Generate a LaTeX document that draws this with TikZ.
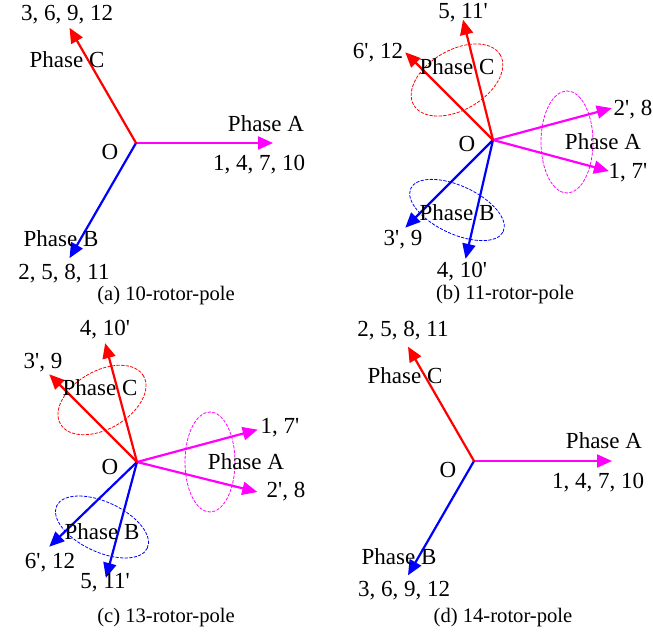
\documentclass[tikz,border=0pt]{standalone}
\usepackage{fontspec}
\setmainfont{Liberation Serif}
\usetikzlibrary{arrows.meta}

\definecolor{rosa}{RGB}{255,0,255}
\definecolor{rosso}{RGB}{255,0,0}
\definecolor{blu}{RGB}{0,0,255}
\newcommand{\apx}{\textquotesingle}

\begin{document}
\begin{tikzpicture}[>={Triangle[length=7.5pt,width=6.5pt]}, line cap=round, line join=round, x=0.5pt, y=0.5pt,
  faseA/.style={->, draw=rosa, line width=1.1pt},
  faseB/.style={->, draw=blu, line width=1.1pt},
  faseC/.style={->, draw=rosso, line width=1.1pt},
  anello/.style={dash pattern=on 1.4pt off 0.9pt, line width=0.4pt},
  lab/.style={font=\fontsize{11.5}{13}\selectfont, inner sep=0pt},
  didascalia/.style={font=\fontsize{10.3}{12}\selectfont, inner sep=0pt}]

\useasboundingbox (0,-635) rectangle (653,0);

% Pannello (a)
\begin{scope}[shift={(136,-143)}]
\coordinate (aO) at (0,0);
\coordinate (aA) at (0:137);
\coordinate (aB) at (240:133);
\coordinate (aC) at (120:133);
\draw[faseA] (aO) -- (aA);
\draw[faseB] (aO) -- (aB);
\draw[faseC] (aO) -- (aC);
\node[lab] (aOl) at (-26,-9) {O};
\node[lab] (aAl) at (130,19) {Phase A};
\node[lab] (aAn) at (123,-22) {1, 4, 7, 10};
\node[lab] (aCl) at (-69,83) {Phase C};
\node[lab] (aCn) at (-69,128) {3, 6, 9, 12};
\node[lab] (aBl) at (-75,-96) {Phase B};
\node[lab] (aBn) at (-72,-131) {2, 5, 8, 11};
\node[didascalia] (aT) at (30,-153) {(a) 10-rotor-pole};
\end{scope}

% Pannello (b)
\begin{scope}[shift={(493,-140)}]
\coordinate (bO) at (0,0);
\coordinate (bA1) at (15:123);
\coordinate (bA2) at (-15:120);
\coordinate (bC1) at (104:124);
\coordinate (bC2) at (135:124);
\coordinate (bB1) at (225:124);
\coordinate (bB2) at (257:122);
% anelli tratteggiati
\draw[anello, rosa] (74,-2) ellipse [x radius=26, y radius=51];
\draw[anello, rosso, shift={(-36,60)}, rotate=30] (0,0) ellipse [x radius=50, y radius=30];
\draw[anello, blu, shift={(-36,-70)}, rotate=-25] (0,0) ellipse [x radius=51, y radius=24];
\draw[faseA] (bO) -- (bA1);
\draw[faseA] (bO) -- (bA2);
\draw[faseB] (bO) -- (bB1);
\draw[faseB] (bO) -- (bB2);
\draw[faseC] (bO) -- (bC1);
\draw[faseC] (bO) -- (bC2);
\node[lab] (bOl) at (-26,-4) {O};
\node[lab] (bAl) at (110,-2) {Phase A};
\node[lab] (bA1n) at (140,30) {2\apx, 8};
\node[lab] (bA2n) at (135,-33) {1, 7\apx};
\node[lab] (bCl) at (-36,73) {Phase C};
\node[lab] (bC1n) at (-30,127) {5, 11\apx};
\node[lab] (bC2n) at (-115,87) {6\apx, 12};
\node[lab] (bBl) at (-36,-73) {Phase B};
\node[lab] (bB1n) at (-90,-100) {3\apx, 9};
\node[lab] (bB2n) at (-31,-132) {4, 10\apx};
\node[didascalia] (bT) at (12,-155) {(b) 11-rotor-pole};
\end{scope}

% Pannello (c)
\begin{scope}[shift={(137,-462)}]
\coordinate (cO) at (0,0);
\coordinate (cA1) at (15:125);
\coordinate (cA2) at (-14:124);
\coordinate (cC1) at (105:123);
\coordinate (cC2) at (135:124);
\coordinate (cB1) at (224:122);
\coordinate (cB2) at (255:120);
% anelli tratteggiati
\draw[anello, rosa] (73,0) ellipse [x radius=25, y radius=50];
\draw[anello, rosso, shift={(-35,62)}, rotate=30] (0,0) ellipse [x radius=48, y radius=29];
\draw[anello, blu, shift={(-35,-65)}, rotate=-25] (0,0) ellipse [x radius=50, y radius=25];
\draw[faseA] (cO) -- (cA1);
\draw[faseA] (cO) -- (cA2);
\draw[faseB] (cO) -- (cB1);
\draw[faseB] (cO) -- (cB2);
\draw[faseC] (cO) -- (cC1);
\draw[faseC] (cO) -- (cC2);
\node[lab] (cOl) at (-27,-5) {O};
\node[lab] (cAl) at (109,0) {Phase A};
\node[lab] (cA1n) at (143,34) {1, 7\apx};
\node[lab] (cA2n) at (149,-30) {2\apx, 8};
\node[lab] (cCl) at (-37,74) {Phase C};
\node[lab] (cC1n) at (-32,132) {4, 10\apx};
\node[lab] (cC2n) at (-94,99) {3\apx, 9};
\node[lab] (cBl) at (-35,-70) {Phase B};
\node[lab] (cB1n) at (-87,-101) {6\apx, 12};
\node[lab] (cB2n) at (-32,-121) {5, 11\apx};
\node[didascalia] (cT) at (29,-156) {(c) 13-rotor-pole};
\end{scope}

% Pannello (d)
\begin{scope}[shift={(474,-461)}]
\coordinate (dO) at (0,0);
\coordinate (dA) at (0:138);
\coordinate (dB) at (240:132);
\coordinate (dC) at (120:132);
\draw[faseA] (dO) -- (dA);
\draw[faseB] (dO) -- (dB);
\draw[faseC] (dO) -- (dC);
\node[lab] (dOl) at (-26,-9) {O};
\node[lab] (dAl) at (130,20) {Phase A};
\node[lab] (dAn) at (124,-22) {1, 4, 7, 10};
\node[lab] (dCl) at (-69,85) {Phase C};
\node[lab] (dCn) at (-71,130) {2, 5, 8, 11};
\node[lab] (dBl) at (-75,-96) {Phase B};
\node[lab] (dBn) at (-70,-130) {3, 6, 9, 12};
\node[didascalia] (dT) at (29,-157) {(d) 14-rotor-pole};
\end{scope}

\end{tikzpicture}
\end{document}
